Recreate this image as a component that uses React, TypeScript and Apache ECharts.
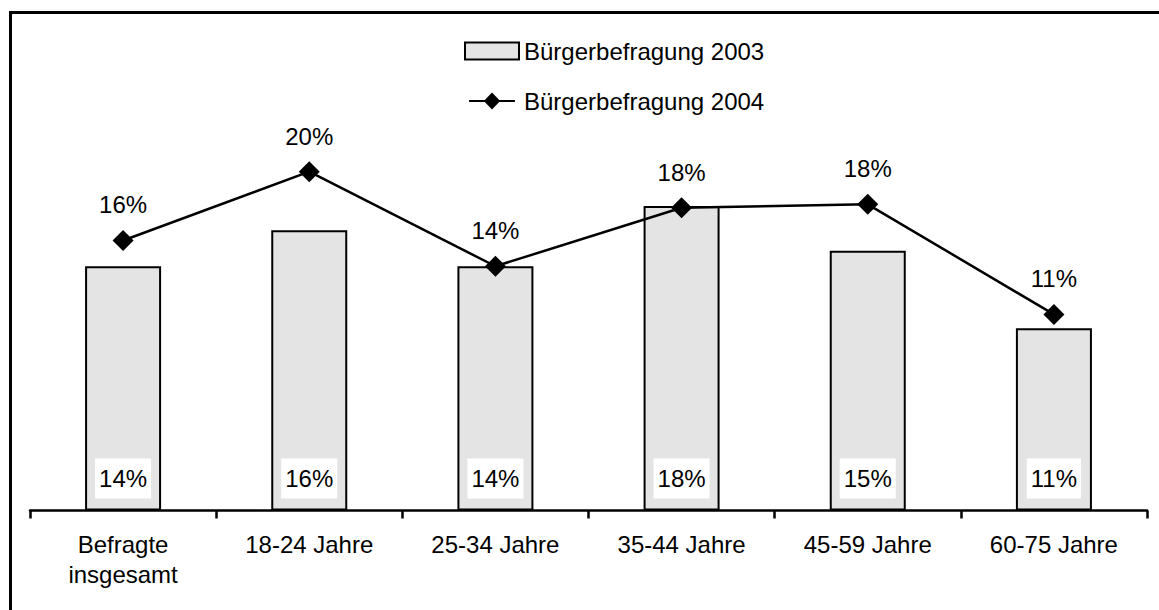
import React, { useEffect, useRef } from "react";
import * as echarts from "echarts";

const categories = ["Befragte\ninsgesamt", "18-24 Jahre", "25-34 Jahre", "35-44 Jahre", "45-59 Jahre", "60-75 Jahre"];
const values2003 = [14.2, 16.3, 14.2, 17.7, 15.1, 10.6];
const values2004 = [15.7, 19.7, 14.2, 17.6, 17.8, 11.4];
const seriesNames = ["Bürgerbefragung 2003", "Bürgerbefragung 2004"];

const FONT = "Liberation Sans, Arial, sans-serif";
const LINE_ICON =
  "path://M0,7.25 L18.5,7.25 L27,-1.5 L35.5,7.25 L54,7.25 L54,9.75 L35.5,9.75 L27,18.5 L18.5,9.75 L0,9.75 Z";

export default function App() {
  const ref = useRef<HTMLDivElement>(null);
  useEffect(() => {
    if (!ref.current) return;
    const chart = echarts.init(ref.current, undefined, { renderer: "svg" });
    const pct = (p: any) => Math.round(p.value) + "%";
    chart.setOption({
      animation: false,
      backgroundColor: "#ffffff",
      textStyle: { fontFamily: FONT, color: "#000" },
      graphic: [
        {
          type: "rect",
          shape: { x: 10.5, y: 12.5, width: 1300, height: 800 },
          style: { fill: "none", stroke: "#000", lineWidth: 3 },
          silent: true,
        },
      ],
      legend: {
        orient: "vertical",
        left: 459,
        top: 34,
        itemWidth: 54,
        itemHeight: 17,
        itemGap: 26,
        textStyle: { fontSize: 24, color: "#000", fontFamily: FONT },
        data: [
          { name: seriesNames[0], icon: "rect" },
          { name: seriesNames[1], icon: LINE_ICON, itemStyle: { color: "#000", borderWidth: 0 } },
        ],
      },
      grid: { left: 30, right: 12, top: 80.5, bottom: 99.5, containLabel: false },
      xAxis: {
        type: "category",
        data: categories,
        boundaryGap: true,
        axisLine: { lineStyle: { color: "#000", width: 2.5 } },
        axisTick: { show: true, length: 8, lineStyle: { color: "#000", width: 2.5 } },
        axisLabel: { fontSize: 24, color: "#000", lineHeight: 30, margin: 19, interval: 0, fontFamily: FONT },
      },
      yAxis: { type: "value", min: 0, max: 25, show: false, splitLine: { show: false } },
      series: [
        {
          name: seriesNames[0],
          type: "bar",
          data: values2003,
          barWidth: 76,
          itemStyle: { color: "#e4e4e4", borderColor: "#000", borderWidth: 2 },
          label: {
            show: true,
            position: "insideBottom",
            distance: 12,
            formatter: pct,
            fontSize: 24,
            color: "#000",
            backgroundColor: "#fff",
            padding: [8, 4],
            fontFamily: FONT,
          },
        },
        {
          name: seriesNames[1],
          type: "line",
          data: values2004,
          symbol: "diamond",
          symbolSize: 21,
          lineStyle: { color: "#000", width: 2.5 },
          itemStyle: { color: "#000" },
          label: {
            show: true,
            position: "top",
            distance: 13,
            formatter: pct,
            fontSize: 24,
            color: "#000",
            fontFamily: FONT,
          },
        },
      ],
    });
    return () => chart.dispose();
  }, []);
  return (
    <div
      ref={ref}
      style={{ position: "fixed", left: 0, top: 0, width: 1159, height: 610, background: "#fff" }}
    />
  );
}
